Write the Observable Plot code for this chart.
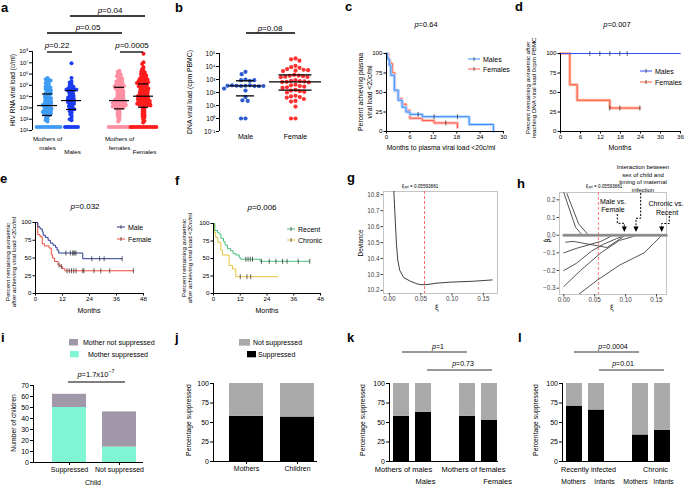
<!DOCTYPE html>
<html>
<head>
<meta charset="utf-8">
<script src="https://cdn.jsdelivr.net/npm/d3@7"></script>
<script src="https://cdn.jsdelivr.net/npm/@observablehq/plot@0.6"></script>
<style>
html, body { margin: 0; padding: 0; background: #fff; }
#root { position: relative; width: 685px; height: 485px; overflow: hidden; background: #fff; }
</style>
</head>
<body>
<div id="root"></div>
<script>
// ================= DATA =================
// a: HIV RNA viral load, values as log10(copies/ml)
const aCategories = ["Mothers of males", "Males", "Mothers of females", "Females"];
const aMothersOfMales = [5.66, 5.55, 5.5, 5.42, 5.3, 5.21, 5.15, 5.05, 4.95, 4.9, 4.82, 4.75, 4.68, 4.6, 4.55, 4.47, 4.4, 4.33,
  4.28, 4.22, 4.15, 4.1, 4.02, 3.96, 3.9, 3.85, 3.78, 3.72, 3.66, 3.6, 3.55, 3.5, 3.45, 3.4, 3.36, 3.31,
  3.27, 3.22, 3.15, 3.1, 3.05, 3.0, 2.95, 2.9, 2.85, 2.8, 2.76, 2.7, 2.65, 2.6, 2.55, 2.5, 2.46, 2.41,
  2.35, 2.2, 2.1, 2.0, 1.9, 1.8, 1.3, 1.3, 1.3, 1.3, 1.3, 1.3, 1.3, 1.3, 1.3, 1.3, 1.3, 1.3];
const aMales = [6.95, 5.65, 5.35, 5.25, 5.1, 5.0, 4.9, 4.85, 4.75, 4.72, 4.68, 4.65, 4.62, 4.6,
  4.55, 4.48, 4.42, 4.35, 4.28, 4.2, 4.12, 4.05, 3.98, 3.92, 3.85, 3.8, 3.76, 3.72,
  3.66, 3.6, 3.55, 3.5, 3.44, 3.38, 3.32, 3.25, 3.18, 3.1, 3.02, 2.95, 2.88, 2.82,
  2.7, 2.6, 2.45, 2.3, 2.1, 2.0, 1.9, 1.3, 1.3, 1.3, 1.3, 1.3, 1.3, 1.3];
const aMothersOfFemales = [6.3, 6.2, 6.1, 6.0, 5.95, 5.85, 5.8, 5.72, 5.65, 5.6, 5.52, 5.45, 5.4, 5.35, 5.28, 5.22, 5.16, 5.1, 5.05, 5.0, 4.97, 4.94, 4.91,
  4.86, 4.82, 4.77, 4.72, 4.66, 4.6, 4.55, 4.5, 4.44, 4.38, 4.33, 4.28, 4.22, 4.16, 4.1, 4.05, 4.0, 3.95, 3.9, 3.85, 3.8, 3.76, 3.72,
  3.68, 3.65, 3.62, 3.58, 3.55, 3.52, 3.49, 3.46, 3.43, 3.4, 3.37, 3.34, 3.31, 3.28, 3.25, 3.22, 3.19, 3.16, 3.13, 3.1, 3.07, 3.04, 3.01,
  2.95, 2.85, 2.75, 2.65, 2.55, 2.45, 2.35, 2.25, 2.1, 1.95, 1.8, 1.3, 1.3, 1.3, 1.3, 1.3, 1.3, 1.3, 1.3, 1.3, 1.3, 1.3, 1.3];
const aFemales = [7.8, 7.05, 6.9, 6.6, 6.45, 6.3, 6.25, 6.15, 6.1, 6.0, 5.95, 5.9, 5.82, 5.76, 5.7, 5.65, 5.6, 5.55, 5.5, 5.46, 5.42, 5.38, 5.34, 5.3, 5.27, 5.24, 5.21,
  5.17, 5.13, 5.09, 5.05, 5.0, 4.96, 4.92, 4.88, 4.84, 4.8, 4.76, 4.72, 4.68, 4.64, 4.6, 4.55, 4.5, 4.46, 4.42, 4.38, 4.34, 4.3, 4.26, 4.22, 4.18, 4.14, 4.11,
  4.07, 4.03, 4.0, 3.96, 3.93, 3.9, 3.86, 3.82, 3.78, 3.75, 3.72, 3.68, 3.65, 3.62, 3.58, 3.55, 3.52, 3.48, 3.45, 3.42, 3.39, 3.36, 3.33, 3.3, 3.27, 3.24, 3.21,
  3.15, 3.05, 2.95, 2.85, 2.75, 2.65, 2.55, 2.45, 2.35, 2.25, 2.15, 2.0, 1.85, 1.7, 1.3, 1.3, 1.3, 1.3, 1.3, 1.3, 1.3, 1.3, 1.3, 1.3, 1.3, 1.3, 1.3];
const aMedian = [3.21, 3.65, 3.65, 4.04];
const aQ1 = [2.33, 2.86, 2.92, 3.06];
const aQ3 = [4.24, 4.54, 4.83, 5.13];
const aTickExponents = [1, 2, 3, 4, 5, 6, 7, 8];

// b: DNA viral load, log10(cpm PBMC)
const bCategories = ["Male", "Female"];
const bMale = [3.59, 3.41, 3.0, 2.95, 2.9, 2.95, 2.52, 2.5, 2.55, 2.5, 2.52, 2.48, 2.55, 2.5, 2.52, 2.3, 2.15, 1.65, 1.4, 1.35, 0, 0];
const bFemale = [4.62, 4.55, 4.45, 4.05, 3.95, 3.9, 3.8, 3.75, 3.72, 3.68, 3.65, 3.35, 3.3, 3.28, 3.25, 3.22, 3.2, 3.18, 2.95, 2.9, 2.88, 2.85, 2.82, 2.8, 2.78,
  2.6, 2.55, 2.5, 2.45, 2.4, 2.35, 2.2, 2.15, 2.1, 2.05, 2.0, 1.75, 1.7, 1.65, 1.6, 1.5, 1.35, 1.3, 0.92, 0, 0];
const bMedian = [2.51, 2.82];
const bQ1 = [1.74, 2.18];
const bQ3 = [2.9, 3.36];
const bTickExponents = [-1, 0, 1, 2, 3, 4, 5];

// c: months to plasma viral load <20 c/ml
const cMalesT = [0, 0.25, 0.7, 1.1, 2, 3, 4, 5, 6, 9.2, 21.2, 27.4];
const cMalesS = [100, 93, 85, 72, 53, 40, 31, 25, 22, 19, 9, 0];
const cMalesCensor = [8.1, 12.2, 18.2];
const cFemalesT = [0, 0.5, 0.8, 1, 1.5, 2.1, 3, 4, 5, 6, 9.2, 12.2, 18.2];
const cFemalesS = [100, 93, 90, 87, 75, 52, 42, 35, 27, 17, 14, 11, 5];
const cFemalesCensor = [15.2];

// d: remaining aviraemic after DNA 0 cpm
const dMalesT = [0, 36];
const dMalesS = [100, 100];
const dMalesCensor = [8.8, 11.8, 14.8, 17.8, 20];
const dFemalesT = [0, 2.8, 5, 14.8, 23.8];
const dFemalesS = [100, 60, 40, 30, 30];
const dFemalesCensor = [14.8, 17.8, 23.8];

// e: remaining aviraemic, by sex
const eMaleT = [0, 1, 2, 3, 3.4, 4.4, 5.6, 6.6, 7.8, 8.9, 9.6, 10.3, 21, 38.5];
const eMaleS = [100, 94, 91, 87, 82, 79, 75, 71, 68, 65, 61, 57, 49, 49];
const eMaleCensor = [13.5, 15.5, 16.5, 17, 17.5, 18, 25, 28.5, 30.5, 38.5];
const eFemaleT = [0, 1, 2, 3, 4, 6, 7, 7.5, 8.5, 10, 11, 12, 13, 43.5];
const eFemaleS = [100, 83, 80, 70, 67, 64, 55, 50, 45, 40, 38, 35, 32, 32];
const eFemaleCensor = [10.5, 11.5, 14, 15, 16, 17, 18, 21, 21.5, 26, 29, 33, 43.5];

// f: remaining aviraemic, by timing of maternal infection
const fRecentT = [0, 0.6, 1.8, 2.5, 3.3, 4.5, 5.2, 6.3, 7.7, 8.8, 10, 11.5, 12.2, 20.9, 43.2];
const fRecentS = [100, 90, 87, 85, 79, 74, 69, 64, 61, 57, 55, 51, 49, 46, 46];
const fRecentCensor = [14.5, 15.5, 16.5, 17.5, 21.5, 25, 28, 31, 33, 38, 43.2];
const fChronicT = [0, 0.5, 1, 2, 3.3, 4, 7, 8.5, 10, 28.9];
const fChronicS = [100, 87, 80, 73, 62, 55, 40, 35, 24, 24];
const fChronicCensor = [12, 15, 16.7];

// g: deviance vs xi
const xiOpt = 0.05593881;
const gXi = [0.0069, 0.0085, 0.0112, 0.0133, 0.0165, 0.0229, 0.0335, 0.045, 0.052, 0.06, 0.076, 0.097, 0.1345, 0.164];
const gDeviance = [10.83, 10.70, 10.49, 10.39, 10.325, 10.28, 10.258, 10.24, 10.236, 10.237, 10.246, 10.252, 10.258, 10.266];

// h: coefficient paths
const hPathXi = [[0, 0.019, 0.03], [0.005, 0.024, 0.04], [0.003, 0.015, 0.07, 0.085, 0.1], [0, 0.02, 0.045, 0.06, 0.08],
  [0, 0.02, 0.045, 0.065, 0.085, 0.1], [0, 0.027, 0.06, 0.09, 0.12], [0.024, 0.054, 0.09, 0.13, 0.159]];
const hPathBeta = [[0.24, 0.045, 0], [0.235, 0.064, 0], [-0.04, -0.035, -0.07, -0.035, 0], [-0.10, -0.075, -0.05, -0.035, 0],
  [-0.20, -0.16, -0.09, -0.05, -0.02, 0], [-0.29, -0.2, -0.1, -0.03, 0], [-0.335, -0.255, -0.17, -0.1, 0]];
const hZeroXi = [0, 0.166];

// i: number of children
const iChild = ["Suppressed", "Not suppressed"];
const iMotherStatus = ["Mother suppressed", "Mother not suppressed"];
const iMotherSuppressed = [50, 14];
const iMotherNotSuppressed = [12, 32];

// j, k, l: percentage suppressed
const jCategories = ["Mothers", "Children"];
const jSuppressed = [58, 57];
const kCategories = ["Mothers of males", "Males", "Mothers of females", "Females"];
const kSuppressed = [58, 63, 58, 53];
const lCategories = ["Recently infected Mothers", "Recently infected Infants", "Chronic Mothers", "Chronic Infants"];
const lSuppressed = [71, 66, 34, 40];

// ================= RENDER =================
const FONT = '"Liberation Sans", Arial, Helvetica, sans-serif';
const baseStyle = {fontFamily: FONT, fontSize: "7px", background: "transparent", overflow: "visible", color: "#000"};
const root = document.getElementById("root");
function put(el, left, top) {
  el.style.position = "absolute"; el.style.left = left + "px"; el.style.top = top + "px";
  root.appendChild(el);
}
const supDigits = {"-": "\u207B", "0": "\u2070", "1": "\u00B9", "2": "\u00B2", "3": "\u00B3", "4": "\u2074", "5": "\u2075", "6": "\u2076", "7": "\u2077", "8": "\u2078", "9": "\u2079"};
const pow10Label = d => "10" + String(Math.round(Math.log10(d))).split("").map(c => supDigits[c]).join("");
const vbar = {draw(ctx, size) { const r = Math.sqrt(size / Math.PI); ctx.moveTo(0, -r * 1.25); ctx.lineTo(0, r * 1.25); }};

// ----- a -----
const aSlots = ["Mothers of males", "Males", "gap", "Mothers of females", "Females"];
const aColors = ["#3f9cf5", "#1c3cf2", "#ff8fa3", "#ff1c1c"];
const aSeries = [aMothersOfMales, aMales, aMothersOfFemales, aFemales];
const aDots = aSeries.flatMap((vals, i) => vals.map(v => ({g: aCategories[i], val: 10 ** v})));
const aStats = aCategories.map((g, i) => ({g, med: 10 ** aMedian[i], q1: 10 ** aQ1[i], q3: 10 ** aQ3[i]}));
const aDims = {width: 170, height: 160, marginTop: 51, marginBottom: 30, marginLeft: 32, marginRight: 15};
put(Plot.plot({...aDims, style: baseStyle,
  x: {domain: [0, 1], axis: null},
  y: {type: "log", domain: [10, 1e8], axis: null},
  marks: [
    Plot.ruleX([0], {strokeWidth: 1}),
    Plot.axisY(aTickExponents.map(e => 10 ** e), {tickFormat: pow10Label, tickSize: 3, tickPadding: 1, fontSize: 6, label: null})
  ]}), 0, 0);
put(Plot.plot({...aDims, style: baseStyle,
  fx: {domain: aSlots, range: [35, 155], padding: 0, axis: null},
  y: {type: "log", domain: [10, 1e8], axis: null},
  color: {domain: aCategories, range: aColors},
  marks: [
    Plot.dot(aDots, Plot.dodgeX({anchor: "middle", padding: -1.85, fx: "g", y: "val", fill: "g", r: 2})),
    Plot.ruleX(aStats, {fx: "g", y1: "q1", y2: "q3", strokeWidth: 1.2}),
    Plot.tickY(aStats, {fx: "g", y: "med", strokeWidth: 1.2, insetLeft: 2, insetRight: 2}),
    Plot.tickY(aStats, {fx: "g", y: "q1", strokeWidth: 1.2, insetLeft: 7, insetRight: 7}),
    Plot.tickY(aStats, {fx: "g", y: "q3", strokeWidth: 1.2, insetLeft: 7, insetRight: 7}),
    Plot.text([aCategories[0], aCategories[2]], {fx: d => d, text: d => d.replace("of ", "of\n"), frameAnchor: "bottom", lineAnchor: "top", dy: 3.5, fontSize: 6.2, lineHeight: 1.5}),
    Plot.text([aCategories[1], aCategories[3]], {fx: d => d, text: d => d, frameAnchor: "bottom", lineAnchor: "top", dy: 19.5, dx: 1, fontSize: 6.2})
  ]}), 0, 0);

// ----- b -----
const bColors = ["#2f5bd0", "#ff3030"];
const bDots = [bMale, bFemale].flatMap((vals, i) => vals.map(v => ({g: bCategories[i], val: 10 ** v})));
const bStats = bCategories.map((g, i) => ({g, med: 10 ** bMedian[i], q1: 10 ** bQ1[i], q3: 10 ** bQ3[i]}));
const bMedInset = [8.5, -1], bCapInset = [16, 8.5];
const bDims = {width: 170, height: 160, marginTop: 53, marginBottom: 29, marginLeft: 49, marginRight: 20};
put(Plot.plot({...bDims, style: baseStyle,
  x: {domain: [0, 1], axis: null},
  y: {type: "log", domain: [0.1, 1e5], axis: null},
  marks: [
    Plot.ruleX([0], {strokeWidth: 1}),
    Plot.axisY(bTickExponents.map(e => 10 ** e), {tickFormat: pow10Label, tickSize: 3, tickPadding: 1, fontSize: 6.5, label: null})
  ]}), 170, 0);
put(Plot.plot({...bDims, style: baseStyle,
  fx: {domain: bCategories, range: [50, 150], padding: 0, axis: null},
  y: {type: "log", domain: [0.1, 1e5], axis: null},
  color: {domain: bCategories, range: bColors},
  marks: [
    Plot.dot(bDots, Plot.dodgeX({anchor: "middle", padding: 0.3, fx: "g", y: "val", fill: "g", r: 2.1})),
    Plot.ruleX(bStats, {fx: "g", y1: "q1", y2: "q3", strokeWidth: 1.3}),
    ...bStats.flatMap((s, i) => [
      Plot.tickY([s], {fx: "g", y: "med", strokeWidth: 1.3, insetLeft: bMedInset[i], insetRight: bMedInset[i]}),
      Plot.tickY([s], {fx: "g", y: "q1", strokeWidth: 1.3, insetLeft: bCapInset[i], insetRight: bCapInset[i]}),
      Plot.tickY([s], {fx: "g", y: "q3", strokeWidth: 1.3, insetLeft: bCapInset[i], insetRight: bCapInset[i]})
    ]),
    Plot.text(bCategories, {fx: d => d, text: d => d, frameAnchor: "bottom", dy: 7, fontSize: 7})
  ]}), 170, 0);

// ----- KM helper -----
function stepValue(ts, ss, t) { let v = ss[0]; for (let i = 0; i < ts.length; i++) if (ts[i] <= t) v = ss[i]; return v; }
function kmPlot(dims, xMax, xTicks, series) {
  const marks = [];
  for (const se of series) {
    const pts = se.t.map((t, i) => ({t, s: se.s[i]}));
    if (se.halo) marks.push(Plot.line(pts, {x: "t", y: "s", curve: "step-after", stroke: se.halo, strokeWidth: 3}));
    marks.push(Plot.line(pts, {x: "t", y: "s", curve: "step-after", stroke: se.color, strokeWidth: 1}));
    marks.push(Plot.dot(se.cens.map(t => ({t, s: stepValue(se.t, se.s, t)})), {x: "t", y: "s", symbol: vbar, r: 2, fill: "none", stroke: "#222", strokeWidth: 0.7}));
  }
  marks.push(Plot.ruleX([0]), Plot.ruleY([0]),
    Plot.axisY([0, 25, 50, 75, 100], {tickSize: 2.5, tickPadding: 1.5, fontSize: 6.2, label: null}),
    Plot.axisX(xTicks, {tickSize: 2.5, tickPadding: 0.5, fontSize: 6.2, label: null}));
  return Plot.plot({...dims, style: baseStyle, x: {domain: [0, xMax]}, y: {domain: [0, 100]}, marks});
}
const cColors = {m: "#3a8cff", mh: "#b9d6ff", f: "#ff5a50", fh: "#ffc0b8"};
put(kmPlot({width: 175, height: 160, marginTop: 53, marginBottom: 29, marginLeft: 46, marginRight: 12}, 30, d3.range(0, 31, 6), [
  {t: cFemalesT, s: cFemalesS, cens: cFemalesCensor, color: cColors.f, halo: cColors.fh},
  {t: cMalesT, s: cMalesS, cens: cMalesCensor, color: cColors.m, halo: cColors.mh}
]), 340, 0);
const dColors = {m: "#3050ff", f: "#ff5a3c", fh: "#ffb8a6"};
put(kmPlot({width: 175, height: 160, marginTop: 53, marginBottom: 29, marginLeft: 50, marginRight: 5}, 36, d3.range(0, 37, 6), [
  {t: dFemalesT, s: dFemalesS, cens: dFemalesCensor, color: dColors.f, halo: dColors.fh},
  {t: dMalesT, s: dMalesS, cens: dMalesCensor, color: dColors.m}
]), 510, 0);
const eColors = {m: "#27398f", f: "#f04a3a"};
put(kmPlot({width: 170, height: 160, marginTop: 62, marginBottom: 27, marginLeft: 35, marginRight: 27}, 48, d3.range(0, 49, 12), [
  {t: eFemaleT, s: eFemaleS, cens: eFemaleCensor, color: eColors.f},
  {t: eMaleT, s: eMaleS, cens: eMaleCensor, color: eColors.m}
]), 0, 160);
const fColors = {r: "#45c07a", c: "#e6c23c"};
put(kmPlot({width: 170, height: 160, marginTop: 63, marginBottom: 27, marginLeft: 43, marginRight: 20}, 48, d3.range(0, 49, 12), [
  {t: fChronicT, s: fChronicS, cens: fChronicCensor, color: fColors.c},
  {t: fRecentT, s: fRecentS, cens: fRecentCensor, color: fColors.r}
]), 170, 160);

// ----- g -----
const gPts = gXi.map((x, i) => ({x, y: gDeviance[i]}));
put(Plot.plot({width: 170, height: 160, marginTop: 31, marginBottom: 27, marginLeft: 43, marginRight: 13, style: baseStyle,
  x: {domain: [-0.0095, 0.1725]}, y: {domain: [10.181, 10.82]},
  marks: [
    Plot.frame({stroke: "#c4c4c4"}),
    Plot.ruleX([xiOpt], {stroke: "#ff6a6a", strokeDasharray: "3,2", strokeWidth: 1}),
    Plot.line(gPts, {x: "x", y: "y", stroke: "#2a2a2a", strokeWidth: 0.9, clip: true}),
    Plot.axisX([0, 0.05, 0.1, 0.15], {tickFormat: d3.format(".2f"), tickSize: 2.5, tickPadding: 1, fontSize: 6.3, color: "#444", label: null}),
    Plot.axisY([10.2, 10.3, 10.4, 10.5, 10.6, 10.7, 10.8], {tickFormat: d3.format(".1f"), tickSize: 2.5, tickPadding: 1.5, fontSize: 6.3, color: "#444", label: null})
  ]}), 340, 160);

// ----- h -----
const hPts = hPathXi.flatMap((xs, k) => xs.map((x, i) => ({id: k, x, y: hPathBeta[k][i]})));
const hZero = hZeroXi.map(x => ({x, y: 0}));
put(Plot.plot({width: 175, height: 160, marginTop: 32, marginBottom: 26, marginLeft: 49, marginRight: 19, style: baseStyle,
  x: {domain: [-0.007, 0.1662]}, y: {domain: [-0.3356, 0.2413]},
  marks: [
    Plot.frame({stroke: "#c4c4c4"}),
    Plot.ruleX([xiOpt], {stroke: "#ff7a7a", strokeDasharray: "3,2", strokeWidth: 1}),
    Plot.line(hPts, {x: "x", y: "y", z: "id", stroke: "#2a2a2a", strokeWidth: 0.8, clip: true}),
    Plot.line(hZero, {x: "x", y: "y", stroke: "#a0a0a0", strokeWidth: 3}),
    Plot.line(hZero, {x: "x", y: "y", stroke: "#555", strokeWidth: 0.5}),
    Plot.axisX([0, 0.05, 0.1, 0.15], {tickFormat: d3.format(".2f"), tickSize: 2.5, tickPadding: 1, fontSize: 6.3, color: "#444", label: null}),
    Plot.axisY([-0.3, -0.2, -0.1, 0, 0.1, 0.2], {tickFormat: d3.format(".1f"), tickSize: 2.5, tickPadding: 1.5, fontSize: 6.3, color: "#444", label: null})
  ]}), 510, 160);

// ----- i -----
const iColors = ["#7ff5d3", "#a098a8"];
const iRows = iChild.flatMap((c, k) => [{c, st: iMotherStatus[0], n: iMotherSuppressed[k]}, {c, st: iMotherStatus[1], n: iMotherNotSuppressed[k]}]);
put(Plot.plot({width: 170, height: 165, marginTop: 65, marginBottom: 23, marginLeft: 33, marginRight: 27, style: baseStyle,
  x: {domain: iChild, range: [36, 152], padding: 0.32, axis: null},
  y: {domain: [0, 70], axis: null},
  color: {domain: iMotherStatus, range: iColors},
  marks: [
    Plot.barY(iRows, {x: "c", y: "n", fill: "st"}),
    Plot.frame({anchor: "left"}), Plot.ruleY([0]),
    Plot.axisY(d3.range(0, 71, 10), {tickSize: 3, tickPadding: 1.5, label: null}),
    Plot.axisX(iChild, {tickSize: 3, tickPadding: 2, label: null})
  ]}), 0, 320);

// ----- j, k, l -----
const supStatus = ["Suppressed", "Not suppressed"];
const supColors = ["#000000", "#aaaaaa"];
const pctRows = (cats, vals) => cats.flatMap((c, i) => [{c, st: supStatus[0], v: vals[i]}, {c, st: supStatus[1], v: 100 - vals[i]}]);
function pctPlot(dims, slots, range, padding, rows, extra) {
  return Plot.plot({...dims, height: 165, marginTop: 63, marginBottom: 24, style: baseStyle,
    x: {domain: slots, range, padding, axis: null},
    y: {domain: [0, 100], axis: null},
    color: {domain: supStatus, range: supColors},
    marks: [
      Plot.barY(rows, {x: "c", y: "v", fill: "st"}),
      Plot.frame({anchor: "left"}), Plot.ruleY([0]),
      Plot.axisY([0, 25, 50, 75, 100], {tickSize: 3, tickPadding: 1.5, label: null}),
      ...extra
    ]});
}
put(pctPlot({width: 170, marginLeft: 43, marginRight: 23}, jCategories, [42, 161], 0.333, pctRows(jCategories, jSuppressed),
  [Plot.axisX(jCategories, {tickSize: 3, tickPadding: 2, label: null})]), 170, 320);
const kSlots = [kCategories[0], kCategories[1], "gap", kCategories[2], kCategories[3]];
const kLabelShift = [2, 2, 6, 8];
put(pctPlot({width: 170, marginLeft: 49, marginRight: 12}, kSlots, [47, 163], 0.2727, pctRows(kCategories, kSuppressed),
  kCategories.map((c, i) => Plot.text([c], {x: d => d, text: d => d, frameAnchor: "bottom", dy: i % 2 ? 22 : 10, dx: kLabelShift[i], fontSize: 7.5}))
), 340, 320);
const lSlots = [lCategories[0], lCategories[1], "gap", lCategories[2], lCategories[3]];
const lLabelShift = [-1, 8, -5, 1];
const lGroupShift = [14, 15];
put(pctPlot({width: 175, marginLeft: 52, marginRight: 15}, lSlots, [50, 166], 0.2727, pctRows(lCategories, lSuppressed), [
  ...[lCategories[0], lCategories[2]].map((c, i) => Plot.text([c], {x: d => d, text: d => d.replace(/ (Mothers|Infants)$/, ""), frameAnchor: "bottom", dy: 10, dx: lGroupShift[i], fontSize: 7.2})),
  ...lCategories.map((c, i) => Plot.text([c], {x: d => d, text: d => d.split(" ").pop(), frameAnchor: "bottom", dy: 22, dx: lLabelShift[i], fontSize: 6.8}))
]), 510, 320);

// ================= ANNOTATION LAYER =================
const ov = d3.select(root).append("svg").attr("width", 685).attr("height", 485)
  .style("position", "absolute").style("left", "0px").style("top", "0px").style("overflow", "visible")
  .attr("font-family", FONT);
function T(x, y, s, o = {}) {
  const t = ov.append("text").attr("x", x).attr("y", y).attr("font-size", o.size || 7)
    .attr("text-anchor", o.anchor || "middle").attr("dominant-baseline", o.base || "central")
    .attr("fill", o.fill || "#000");
  if (o.weight) t.attr("font-weight", o.weight);
  if (o.rotate) t.attr("transform", `rotate(${o.rotate},${x},${y})`);
  if (o.family) t.attr("font-family", o.family);
  t.text(s);
  return t;
}
function L(x1, y1, x2, y2, o = {}) {
  return ov.append("line").attr("x1", x1).attr("y1", y1).attr("x2", x2).attr("y2", y2)
    .attr("stroke", o.stroke || "#000").attr("stroke-width", o.width || 1).attr("stroke-dasharray", o.dash || null);
}
function P(d, o = {}) {
  return ov.append("path").attr("d", d).attr("fill", o.fill || "none").attr("stroke", o.stroke || "none")
    .attr("stroke-width", o.width || 1).attr("stroke-dasharray", o.dash || null);
}
function pVal(x, y, val, size, sup) {
  const t = T(x, y, "", {size});
  t.append("tspan").attr("font-style", "italic").text("p");
  t.append("tspan").text("=" + val);
  if (sup) t.append("tspan").attr("dy", -size * 0.4).attr("font-size", size * 0.72).text(sup);
  return t;
}
function legendLine(x1, x2, y, color, label) {
  L(x1, y, x2, y, {stroke: color, width: 1});
  L((x1 + x2) / 2, y - 2, (x1 + x2) / 2, y + 2, {stroke: "#222", width: 0.7});
  T(x2 + 3, y, label, {anchor: "start", size: 7});
}
// panel letters
[["a", 1, 12], ["b", 175, 12], ["c", 345, 11], ["d", 515, 11], ["e", 0, 183], ["f", 175, 185],
 ["g", 347, 182], ["h", 517, 188], ["i", 1, 342], ["j", 175, 342], ["k", 347, 342], ["l", 518, 342]]
  .forEach(([s, x, y]) => T(x, y, s, {size: 13, weight: "bold", anchor: "start", base: "alphabetic"}));

// a
pVal(110, 10, "0.04", 8); L(70, 16, 145, 16, {width: 1.3});
pVal(88, 27, "0.05", 8); L(47, 33, 122, 33, {width: 1.3});
pVal(57, 45, "0.22", 8); L(47, 52, 72, 52, {width: 1.3});
pVal(132, 45, "0.0005", 8); L(120, 52, 143, 52, {width: 1.3});
T(12, 90, "HIV RNA viral load (c/ml)", {size: 6.5, rotate: -90});
// b
pVal(270, 28, "0.08", 8); L(246, 33, 295, 33, {width: 1.3});
T(189, 92, "DNA viral load (cpm PBMC)", {size: 6.8, rotate: -90});
// c
pVal(426, 24, "0.64", 7.5);
T(360.5, 92, "Percent achieving plasma", {size: 6.8, rotate: -90});
T(369, 92, "viral load <20c/ml", {size: 6.8, rotate: -90});
T(441, 147, "Months to plasma viral load <20c/ml", {size: 6.8});
legendLine(468, 480, 59, cColors.m, "Males");
legendLine(468, 480, 69, cColors.f, "Females");
// d
pVal(617, 24, "0.007", 7.5);
T(527, 88, "Percent remaining aviraemic after", {size: 6.2, rotate: -90});
T(533.5, 88, "reaching DNA viral load 0cpm PBMC", {size: 6.2, rotate: -90});
T(620, 147, "Months", {size: 7});
legendLine(640, 652, 71, dColors.m, "Males");
legendLine(640, 652, 82, dColors.f, "Females");
// e
pVal(85, 206, "0.032", 8);
T(7, 262, "Percent remaining aviraemic", {size: 6.2, rotate: -90});
T(13.5, 262, "after achieving viral load <20c/ml", {size: 6.2, rotate: -90});
T(89, 310, "Months", {size: 7});
legendLine(117, 125, 227, eColors.m, "Male");
legendLine(117, 125, 239, eColors.f, "Female");
// f
pVal(262, 207, "0.006", 8);
T(183, 258, "Percent remaining aviraemic", {size: 6.2, rotate: -90});
T(189.5, 258, "after achieving viral load <20c/ml", {size: 6.2, rotate: -90});
T(267, 310, "Months", {size: 7});
legendLine(287, 295, 229, fColors.r, "Recent");
legendLine(287, 295, 240, fColors.c, "Chronic");
// g
function xiLabel(x, y) {
  const t = T(x, y, "", {size: 4.6});
  t.append("tspan").attr("font-family", "DejaVu Sans").text("\u03BE");
  t.append("tspan").attr("dy", 1.2).attr("font-size", 3.2).text("opt");
  t.append("tspan").attr("dy", -1.2).text(" = 0.05593881");
}
xiLabel(420, 186);
T(360, 243, "Deviance", {size: 6.5, rotate: -90});
T(437, 308, "\u03BE", {size: 7, family: "DejaVu Sans"});
// h
xiLabel(604, 186);
T(548, 240, "\u03B2\u0302\u2C7C", {size: 7, rotate: -90, family: "DejaVu Sans"});
T(612, 308, "\u03BE", {size: 7, family: "DejaVu Sans"});
["Interaction between", "sex of child and", "timing of maternal", "infection"].forEach((s, i) => T(643, 167 + i * 7.5, s, {size: 6}));
T(613, 201, "Male vs.", {size: 7}); T(613, 209.5, "Female", {size: 7});
T(666, 203, "Chronic vs.", {size: 7}); T(667, 212, "Recent", {size: 7});
P("M617.3,214 V223.3 H624.3 V227", {stroke: "#000", dash: "2,1.5"});
P("M640.7,193 V218.3 H636 V227", {stroke: "#000", dash: "2,1.5"});
P("M669.3,216 V223.5 H661.7 V227", {stroke: "#000", dash: "2,1.5"});
[624.3, 636, 661.7].forEach(x => P(`M${x - 2.6},226.5 L${x + 2.6},226.5 L${x},232 Z`, {fill: "#000"}));
// i
ov.append("rect").attr("x", 69).attr("y", 339).attr("width", 9).attr("height", 6.5).attr("fill", iColors[1]);
T(83, 342, "Mother not suppressed", {anchor: "start", size: 7});
ov.append("rect").attr("x", 70).attr("y", 351).attr("width", 8.7).attr("height", 6.3).attr("fill", iColors[0]);
T(88, 354, "Mother suppressed", {anchor: "start", size: 7});
pVal(96, 374, "1.7x10", 7.5, "\u22127"); L(68, 382, 125, 382, {width: 1.2});
T(13, 423, "Number of children", {size: 6.8, rotate: -90});
T(93, 482, "Child", {size: 7});
// j
ov.append("rect").attr("x", 239).attr("y", 339).attr("width", 11).attr("height", 6.7).attr("fill", supColors[1]);
T(253, 342, "Not suppressed", {anchor: "start", size: 7});
ov.append("rect").attr("x", 247).attr("y", 351).attr("width", 9).attr("height", 6.3).attr("fill", supColors[0]);
T(258, 354, "Suppressed", {anchor: "start", size: 7});
T(188, 420, "Percentage suppressed", {size: 6.8, rotate: -90});
// k
pVal(438, 346, "1", 7); L(402, 352, 467, 352, {stroke: "#777", width: 1.6});
pVal(463, 363, "0.73", 7); L(427, 370, 492, 370, {stroke: "#777", width: 1.6});
T(362, 420, "Percentage suppressed", {size: 6.8, rotate: -90});
// l
pVal(613, 346, "0.0004", 7); L(574, 352, 639, 352, {stroke: "#777", width: 1.6});
pVal(623, 363, "0.01", 7); L(599, 370, 664, 370, {stroke: "#777", width: 1.6});
T(535, 420, "Percentage suppressed", {size: 6.8, rotate: -90});
</script>
</body>
</html>
